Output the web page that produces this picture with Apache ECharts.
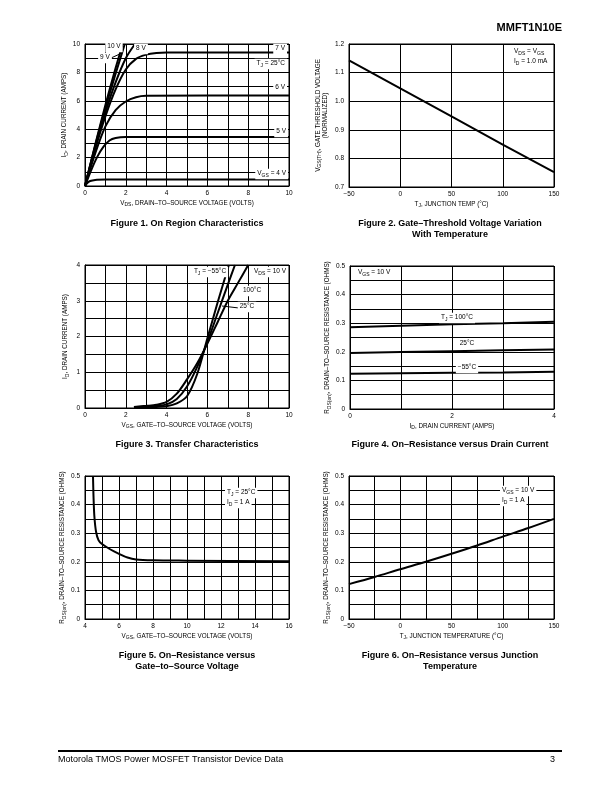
<!DOCTYPE html>
<html>
<head>
<meta charset="utf-8">
<script src="https://cdn.jsdelivr.net/npm/echarts@6/dist/echarts.min.js"></script>
<style>
html,body{margin:0;padding:0;background:#fff;}
#c{width:612px;height:792px;}
</style>
</head>
<body>
<div id="c"></div>
<script>
// ---------- DATA ----------
// Figure 1: On region characteristics  [VDS, ID]
const fig1Vgs4  = [[0,0],[0.1,0.2],[0.25,0.35],[0.5,0.43],[1,0.45],[10,0.45]];
const fig1Vgs5  = [[0,0],[0.3,1.1],[0.6,2.05],[0.9,2.75],[1.2,3.2],[1.5,3.38],[2,3.45],[10,3.45]];
const fig1Vgs6  = [[0,0],[0.5,2.3],[1,4.2],[1.5,5.35],[2,5.95],[2.5,6.25],[3,6.35],[10,6.38]];
const fig1Vgs7  = [[0,0],[0.5,2.6],[1,4.9],[1.5,6.8],[2,8.2],[2.5,8.95],[3,9.25],[3.5,9.37],[4,9.4],[10,9.4]];
const fig1Vgs8  = [[0,0],[0.5,2.75],[1,5.2],[1.5,7.3],[2,9.0],[2.45,10]];
const fig1Vgs9  = [[0,0],[0.5,2.85],[1,5.5],[1.5,7.9],[1.95,10]];
const fig1Vgs10 = [[0,0],[0.5,2.9],[1,5.7],[1.5,8.3],[1.85,10]];
// Figure 2: gate threshold vs temperature
const fig2Temp = [-50, 0, 50, 100, 150];
const fig2Vth  = [1.143, 1.045, 0.947, 0.848, 0.752];
// Figure 3: transfer characteristics [VGS, ID]
const fig3TjM55 = [[2.4,0.01],[3,0.02],[3.5,0.03],[4,0.05],[4.5,0.13],[5,0.33],[5.5,0.95],[6,1.95],[6.5,2.95],[7,3.9],[7.05,4.0]];
const fig3Tj25  = [[2.4,0.02],[3,0.04],[3.5,0.06],[4,0.1],[4.5,0.25],[5,0.6],[5.5,1.15],[6,1.85],[6.5,2.65],[7,3.45],[7.35,4.0]];
const fig3Tj100 = [[2.4,0.03],[3,0.06],[3.5,0.09],[4,0.17],[4.5,0.4],[5,0.8],[5.5,1.25],[6,1.8],[6.5,2.4],[7,3.0],[7.5,3.5],[8.0,4.0]];
// Figure 4: on-resistance vs drain current
const fig4Id    = [0, 1, 2, 3, 4];
const fig4R100  = [0.286, 0.291, 0.296, 0.300, 0.305];
const fig4R25   = [0.196, 0.199, 0.202, 0.205, 0.208];
const fig4RM55  = [0.123, 0.125, 0.127, 0.128, 0.130];
// Figure 5: on-resistance vs VGS  [VGS, R]
const fig5Curve = [[4.47,0.5],[4.5,0.43],[4.55,0.36],[4.65,0.305],[4.8,0.275],[5,0.262],[5.5,0.243],[6,0.228],[6.5,0.215],[7,0.208],[8,0.205],[10,0.204],[16,0.202]];
// Figure 6: on-resistance vs junction temperature
const fig6Temp = [-50, -25, 0, 25, 50, 75, 100, 125, 150];
const fig6R    = [0.122, 0.147, 0.174, 0.2, 0.228, 0.257, 0.288, 0.318, 0.35];

// ---------- STYLE HELPERS ----------
const FF = "'Liberation Sans', Arial, sans-serif";
const TICK = 6.5;
const NAMEF = 6.3;
const SUBF = 5;
const nameRich = {
  m: {fontSize: NAMEF, fontFamily: FF, color: '#000', verticalAlign: 'bottom', padding: [0,0,1.5,0]},
  s: {fontSize: SUBF, fontFamily: FF, color: '#000', verticalAlign: 'bottom'}
};
const minus = v => (v < 0 ? '\u2212' + (-v) : String(v));
const evenOnly = v => (Math.round(v) % 2 === 0 ? String(v) : '');
const tenth = v => { const r = Math.round(v * 100); return r % 10 === 0 ? (r === 0 ? '0' : (r / 100).toFixed(1)) : ''; };

function xAx(gi, min, max, interval, fmt, name, gap) {
  return {
    type: 'value', gridIndex: gi, min, max, interval,
    name, nameLocation: 'middle', nameGap: gap,
    nameTextStyle: {rich: nameRich, fontSize: NAMEF, fontFamily: FF, color: '#000'},
    axisLine: {show: true, onZero: false, lineStyle: {color: '#000', width: 1}},
    axisTick: {show: false},
    splitLine: {show: true, lineStyle: {color: '#000', width: 1}},
    axisLabel: {color: '#000', fontSize: TICK, fontFamily: FF, margin: 4, formatter: fmt}
  };
}
function yAx(gi, min, max, interval, fmt, name, gap) {
  const a = xAx(gi, min, max, interval, fmt, name, gap);
  a.axisLabel.margin = 5;
  return a;
}
function ln(xi, data, smooth) {
  return {
    type: 'line', xAxisIndex: xi, yAxisIndex: xi, data,
    showSymbol: false, symbol: 'none', smooth: smooth,
    lineStyle: {color: '#000', width: 2}, silent: true, animation: false, z: 5
  };
}
const zip = (a, b) => a.map((v, i) => [v, b[i]]);

// ---------- ANNOTATION HELPERS ----------
const tokRich = {
  m: {fontSize: 6.5, fontFamily: FF, fill: '#000', verticalAlign: 'bottom', padding: [0,0,1.5,0]},
  s: {fontSize: 5, fontFamily: FF, fill: '#000', verticalAlign: 'bottom'}
};
function note(x, y, text, align, bg) {
  return {
    type: 'text', x, y, z: 50,
    style: {
      text, rich: tokRich, fill: '#000', fontSize: 6.5, fontFamily: FF,
      textAlign: align || 'left', textVerticalAlign: 'middle',
      backgroundColor: bg === false ? null : '#fff', padding: [1, 2, 1, 2]
    }
  };
}
function caption(x, y, text) {
  return {
    type: 'text', x, y, z: 50,
    style: {text, fill: '#000', fontSize: 9, fontWeight: 'bold', fontFamily: FF,
            textAlign: 'center', textVerticalAlign: 'middle'}
  };
}
function leader(x1, y1, x2, y2) {
  return {type: 'line', z: 49, shape: {x1, y1, x2, y2}, style: {stroke: '#000', lineWidth: 1}};
}

const chart = echarts.init(document.getElementById('c'), null, {renderer: 'canvas'});

const grids = [
  {left: 85,  top: 44,  width: 204, height: 142},
  {left: 349, top: 44,  width: 205, height: 143},
  {left: 85,  top: 265, width: 204, height: 143},
  {left: 350, top: 266, width: 204, height: 143},
  {left: 85,  top: 476, width: 204, height: 143},
  {left: 349, top: 476, width: 205, height: 143}
].map(g => Object.assign(g, {show: true, borderColor: '#000', borderWidth: 1, backgroundColor: 'transparent', containLabel: false}));

const option = {
  animation: false,
  backgroundColor: '#fff',
  grid: grids,
  xAxis: [
    xAx(0, 0, 10, 1, evenOnly, '{m|V}{s|DS}{m|, DRAIN\u2013TO\u2013SOURCE VOLTAGE (VOLTS)}', 14),
    xAx(1, -50, 150, 50, minus, '{m|T}{s|J}{m|, JUNCTION TEMP (\u00B0C)}', 14),
    xAx(2, 0, 10, 1, evenOnly, '{m|V}{s|GS}{m|, GATE\u2013TO\u2013SOURCE VOLTAGE (VOLTS)}', 14),
    xAx(3, 0, 4, 1, evenOnly, '{m|I}{s|D}{m|, DRAIN CURRENT (AMPS)}', 14),
    xAx(4, 4, 16, 1, evenOnly, '{m|V}{s|GS}{m|, GATE\u2013TO\u2013SOURCE VOLTAGE (VOLTS)}', 14),
    xAx(5, -50, 150, 25, v => (v % 50 === 0 ? minus(v) : ''), '{m|T}{s|J}{m|, JUNCTION TEMPERATURE (\u00B0C)}', 14)
  ],
  yAxis: [
    yAx(0, 0, 10, 1, evenOnly, '{m|I}{s|D}{m|, DRAIN CURRENT (AMPS)}', 15),
    yAx(1, 0.7, 1.2, 0.1, v => v.toFixed(1), '{m|V}{s|GS(TH)}{m|, GATE THRESHOLD VOLTAGE}\n{m|(NORMALIZED)}', 19),
    yAx(2, 0, 4, 0.5, v => (Number.isInteger(v) ? String(v) : ''), '{m|I}{s|D}{m|, DRAIN CURRENT (AMPS)}', 15),
    yAx(3, 0, 0.5, 0.05, tenth, '{m|R}{s|DS(on)}{m|, DRAIN\u2013TO\u2013SOURCE RESISTANCE (OHMS)}', 17),
    yAx(4, 0, 0.5, 0.05, tenth, '{m|R}{s|DS(on)}{m|, DRAIN\u2013TO\u2013SOURCE RESISTANCE (OHMS)}', 16),
    yAx(5, 0, 0.5, 0.05, tenth, '{m|R}{s|DS(on)}{m|, DRAIN\u2013TO\u2013SOURCE RESISTANCE (OHMS)}', 17)
  ],
  series: [
    ln(0, fig1Vgs4, 0.3), ln(0, fig1Vgs5, 0.3), ln(0, fig1Vgs6, 0.3), ln(0, fig1Vgs7, 0.3),
    ln(0, fig1Vgs8, 0.3), ln(0, fig1Vgs9, 0.3), ln(0, fig1Vgs10, 0.3),
    ln(1, zip(fig2Temp, fig2Vth), false),
    ln(2, fig3TjM55, 0.3), ln(2, fig3Tj25, 0.3), ln(2, fig3Tj100, 0.3),
    ln(3, zip(fig4Id, fig4R100), false), ln(3, zip(fig4Id, fig4R25), false), ln(3, zip(fig4Id, fig4RM55), false),
    ln(4, fig5Curve, 0.3),
    ln(5, zip(fig6Temp, fig6R), 0.3)
  ],
  graphic: [
    // header / footer
    {type: 'text', x: 562, y: 28, style: {text: 'MMFT1N10E', fill: '#000', fontSize: 11, fontWeight: 'bold', fontFamily: FF, textAlign: 'right', textVerticalAlign: 'middle'}},
    {type: 'line', shape: {x1: 58, y1: 751, x2: 562, y2: 751}, style: {stroke: '#000', lineWidth: 2}},
    {type: 'text', x: 58, y: 760, style: {text: 'Motorola TMOS Power MOSFET Transistor Device Data', fill: '#000', fontSize: 9, fontFamily: FF, textAlign: 'left', textVerticalAlign: 'middle'}},
    {type: 'text', x: 555, y: 760, style: {text: '3', fill: '#000', fontSize: 9, fontFamily: FF, textAlign: 'right', textVerticalAlign: 'middle'}},
    // Figure 1 notes
    note(114, 47, '{m|10 V}', 'center'),
    note(105, 58, '{m|9 V}', 'center'),
    leader(111, 58, 122, 53),
    note(141, 49, '{m|8 V}', 'center'),
    note(287, 49, '{m|7 V}', 'right'),
    note(287, 64, '{m|T}{s|J}{m| = 25\u00B0C}', 'right'),
    note(287, 88, '{m|6 V}', 'right'),
    note(288, 132, '{m|5 V}', 'right'),
    note(288, 174, '{m|V}{s|GS}{m| = 4 V}', 'right'),
    caption(187, 224, 'Figure 1. On Region Characteristics'),
    // Figure 2 notes
    note(512, 52, '{m|V}{s|DS}{m| = V}{s|GS}', 'left'),
    note(512, 62, '{m|I}{s|D}{m| = 1.0 mA}', 'left'),
    caption(450, 224, 'Figure 2. Gate\u2013Threshold Voltage Variation'),
    caption(450, 235, 'With Temperature'),
    // Figure 3 notes
    note(210, 272, '{m|T}{s|J}{m| = \u221255\u00B0C}', 'center'),
    note(288, 272, '{m|V}{s|DS}{m| = 10 V}', 'right'),
    note(252, 291, '{m|100\u00B0C}', 'center'),
    note(247, 307, '{m|25\u00B0C}', 'center'),
    leader(222, 306, 239, 308),
    caption(187, 445, 'Figure 3. Transfer Characteristics'),
    // Figure 4 notes
    note(356, 273, '{m|V}{s|GS}{m| = 10 V}', 'left'),
    note(457, 318, '{m|T}{s|J}{m| = 100\u00B0C}', 'center'),
    note(467, 344, '{m|25\u00B0C}', 'center'),
    note(467, 368, '{m|\u221255\u00B0C}', 'center'),
    caption(450, 445, 'Figure 4. On\u2013Resistance versus Drain Current'),
    // Figure 5 notes
    note(225, 493, '{m|T}{s|J}{m| = 25\u00B0C}', 'left'),
    note(225, 503, '{m|I}{s|D}{m| = 1 A}', 'left'),
    caption(187, 656, 'Figure 5. On\u2013Resistance versus'),
    caption(187, 667, 'Gate\u2013to\u2013Source Voltage'),
    // Figure 6 notes
    note(500, 491, '{m|V}{s|GS}{m| = 10 V}', 'left'),
    note(500, 501, '{m|I}{s|D}{m| = 1 A}', 'left'),
    caption(450, 656, 'Figure 6. On\u2013Resistance versus Junction'),
    caption(450, 667, 'Temperature')
  ]
};
chart.setOption(option);
</script>
</body>
</html>
